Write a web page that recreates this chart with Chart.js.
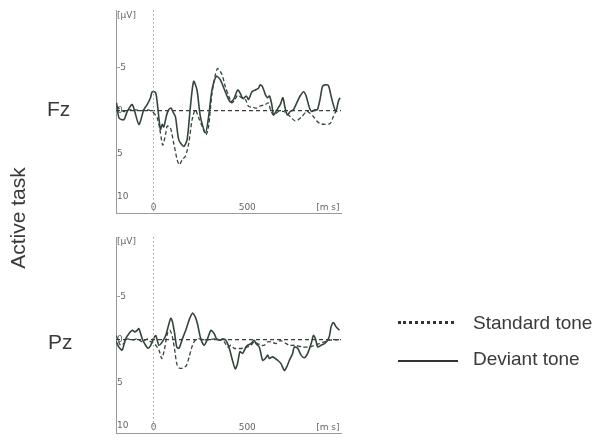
<!DOCTYPE html>
<html>
<head>
<meta charset="utf-8">
<script src="https://cdn.jsdelivr.net/npm/chart.js@4/dist/chart.umd.min.js"></script>
<style>
  html, body { margin: 0; padding: 0; background: #fff; }
  body { width: 597px; height: 443px; position: relative; overflow: hidden; font-family: "Liberation Sans", Arial, sans-serif; color: #3a3a3a; }
  canvas { position: absolute; left: 0; }
  #c1 { top: 0; }
  #c2 { top: 225px; }
  .lbl { position: absolute; white-space: nowrap; line-height: 1; }
  #active { left: 17px; top: 218px; font-size: 21px; transform: translate(-50%, -50%) rotate(-90deg); }
  #fz { left: 47px; top: 98px; font-size: 21px; }
  #pz { left: 48px; top: 331px; font-size: 21px; }
  #legStd { left: 473px; top: 313px; font-size: 19px; }
  #legDev { left: 473px; top: 349px; font-size: 19px; }
  #lineStd { position: absolute; left: 398px; top: 321px; width: 56px; border-top: 3px dotted #333; }
  #lineDev { position: absolute; left: 398px; top: 360px; width: 60px; border-top: 2px solid #333; }
</style>
</head>
<body>
<canvas id="c1" width="597" height="230"></canvas>
<canvas id="c2" width="597" height="218"></canvas>
<div class="lbl" id="active">Active task</div>
<div class="lbl" id="fz">Fz</div>
<div class="lbl" id="pz">Pz</div>
<div id="lineStd"></div>
<div class="lbl" id="legStd">Standard tone</div>
<div id="lineDev"></div>
<div class="lbl" id="legDev">Deviant tone</div>
<script>
// ---- data (ms, µV; negative plotted upward) ----
const xTicks = [0, 500];
const xUnitLabel = '[m s]';
const yTicks = [-5, 0, 5, 10];
const yUnitLabel = '[µV]';

const fzDeviantMs = [-197,-184,-158,-140,-113,-78,-52,-34,-16,-7,11,20,37,47,55,70,81,93,105,117,135,161,179,197,214,232,250,277,294,312,335,356,392,410,427,449,463,477,495,507,525,543,560,569,581,596,608,619,631,640,658,676,690,702,714,729,746,764,782,800,814,832,844,862,874,888,901,915,933,947,959,973,986,995];
const fzDeviantUv = [-0.9,0.85,1.05,0.1,-0.7,1.6,-0.1,-0.7,-1.5,-2.2,-2.1,-0.9,2.2,1.6,1.9,0.5,-0.1,-0.3,0.2,0.7,3.4,4.15,3.4,-0.5,-3.4,-2.4,0.7,2.6,0.7,-2.4,-4.0,-3.6,-1.7,-1.0,-1.3,-2.4,-2.0,-1.4,-1.7,-1.3,-2.2,-2.4,-2.6,-3.0,-2.8,-1.9,-1.5,-1.7,-0.7,0.5,-0.1,-0.7,-1.5,-0.3,0.5,0.1,-0.1,-0.9,-1.7,-2.2,-1.7,-0.3,0.1,-0.1,-0.1,-1.3,-2.8,-3.0,-2.9,-1.7,-0.7,0.1,-1.1,-1.5];

const fzStandardMs = [-197,-158,-131,-96,-60,-34,-7,20,37,49,64,73,90,108,126,138,153,170,188,206,223,241,259,280,294,312,330,342,365,383,401,418,432,449,470,490,507,530,549,565,596,613,624,640,667,694,720,737,755,773,791,817,835,853,871,888,915,942,959,973,990];
const fzStandardUv = [-0.5,0.1,-0.1,-0.1,0,-0.1,0.1,0.85,2.6,4.0,2.8,1.8,2.0,3.8,5.7,6.3,5.7,5.3,3.8,1.05,-0.1,0.85,1.8,2.8,1.8,-2.0,-4.2,-4.9,-4.2,-2.8,-1.7,-0.9,-1.2,-1.8,-1.5,-1.3,-0.5,-0.4,-0.3,-0.5,-0.7,-0.9,-0.1,0.5,0.1,0.1,0.5,0.85,1.2,1.05,0.7,0.1,0.3,0.7,1.2,1.5,1.6,1.5,0.7,0.1,0.05];

const pzDeviantMs = [-199,-184,-167,-149,-131,-113,-99,-87,-78,-60,-42,-28,-15,-1,12,20,29,47,65,78,92,101,113,124,136,154,172,190,208,222,234,252,270,288,306,324,336,354,368,386,404,421,436,448,461,475,493,502,520,537,546,564,582,596,609,618,635,650,662,680,698,710,725,742,751,769,787,805,822,841,853,864,876,894,912,929,939,947,960,974,983,992];
const pzDeviantUv = [0.2,0.9,1.2,-0.1,-0.7,-1.1,-0.9,-1.1,-1.3,-0.1,0.65,1.0,0.65,-0.1,-0.5,0.06,0.65,0.25,-0.5,-1.5,-2.5,-2.1,-0.7,0.85,1.0,-0.1,-1.1,-2.3,-3.1,-2.7,-1.9,-0.1,0.65,-0.1,-1.1,-0.7,-0.1,0.06,-0.1,0.06,1.0,2.4,3.4,2.8,1.4,1.6,0.85,0.65,0.45,0.06,0.45,0.85,2.4,2.2,1.8,2.2,2.0,2.2,2.4,2.8,3.6,3.2,2.4,1.6,0.85,1.0,1.8,2.1,1.6,0.45,-0.5,-0.1,0.85,0.65,0.45,0.06,-0.5,-1.5,-2.0,-1.5,-1.3,-1.1];

const pzStandardMs = [-199,-176,-158,-140,-113,-87,-60,-33,-15,12,29,44,56,74,88,101,113,124,136,158,176,190,208,222,243,270,297,324,350,377,395,413,430,475,502,520,537,555,573,591,609,627,653,671,685,707,725,751,796,832,858,885,912,939,992];
const pzStandardUv = [-0.5,0.65,0.45,-0.1,0.06,-0.1,0.25,-0.1,0.25,0.65,1.2,2.2,1.4,-0.7,-1.1,-0.3,1.2,2.8,3.3,3.3,3.0,2.0,0.65,0.06,-0.1,0,0,-0.1,0,0.25,0.85,0.65,1.0,1.0,0.85,0.65,0.25,0.45,0.65,0.65,0.25,0.25,0.45,0.15,0.15,0.45,0.65,0.65,0.85,0.85,0.65,0.45,0.25,0.06,0];

// ---- drawing ----
const X_MIN = -200, X_MAX = 1000;
const LINE = '#33463a';
const AXIS = '#9a9a9a';
const TICK = '#666';

function pts(ms, uv) { return ms.map((m, i) => ({ x: m, y: uv[i] })); }

function makePanel(id, dev, std, yMin, yMax, unitAt, pad) {
  const ctx = document.getElementById(id);
  return new Chart(ctx, {
    type: 'line',
    data: {
      datasets: [
        { data: [{x: 0, y: yMin}, {x: 0, y: yMax}], borderColor: '#a0a0a0', borderWidth: 1, borderDash: [1.5, 2.5], pointRadius: 0 },
        { data: [{x: X_MIN, y: 0}, {x: X_MAX, y: 0}], borderColor: '#3c3c3c', borderWidth: 1.2, borderDash: [4, 3], pointRadius: 0 },
        { data: std, borderColor: LINE, borderWidth: 1.3, borderDash: [4, 2.5], pointRadius: 0, tension: 0.25 },
        { data: dev, borderColor: LINE, borderWidth: 1.6, pointRadius: 0, tension: 0.25 }
      ]
    },
    options: {
      responsive: false,
      animation: false,
      events: [],
      layout: { padding: pad },
      plugins: { legend: { display: false }, tooltip: { enabled: false } },
      scales: {
        x: {
          type: 'linear', min: X_MIN, max: X_MAX,
          grid: { display: false, drawTicks: false },
          border: { display: true, color: AXIS, width: 1 },
          afterFit: s => { s.height = 0; },
          afterBuildTicks: s => { s.ticks = xTicks.concat([930]).map(v => ({ value: v })); },
          ticks: {
            mirror: true, padding: 0, color: TICK, maxRotation: 0, autoSkip: false,
            font: { family: 'DejaVu Sans', size: 9 },
            callback: v => (v === 930 ? xUnitLabel : String(v))
          }
        },
        y: {
          type: 'linear', min: yMin, max: yMax, reverse: true,
          grid: { display: false, drawTicks: false },
          border: { display: true, color: AXIS, width: 1 },
          afterFit: s => { s.width = 0; },
          afterBuildTicks: s => { s.ticks = [unitAt].concat(yTicks).map(v => ({ value: v })); },
          ticks: {
            mirror: true, padding: 1, color: TICK, autoSkip: false,
            font: { family: 'DejaVu Sans', size: 9 },
            callback: v => (v === unitAt ? yUnitLabel : String(v))
          }
        }
      }
    }
  });
}

makePanel('c1', pts(fzDeviantMs, fzDeviantUv), pts(fzStandardMs, fzStandardUv),
  -11.7, 11.9, -11.1, { left: 116, top: 10, right: 256, bottom: 17 });
makePanel('c2', pts(pzDeviantMs, pzDeviantUv), pts(pzStandardMs, pzStandardUv),
  -12.0, 10.9, -11.5, { left: 116, top: 12, right: 256, bottom: 10 });
</script>
</body>
</html>
